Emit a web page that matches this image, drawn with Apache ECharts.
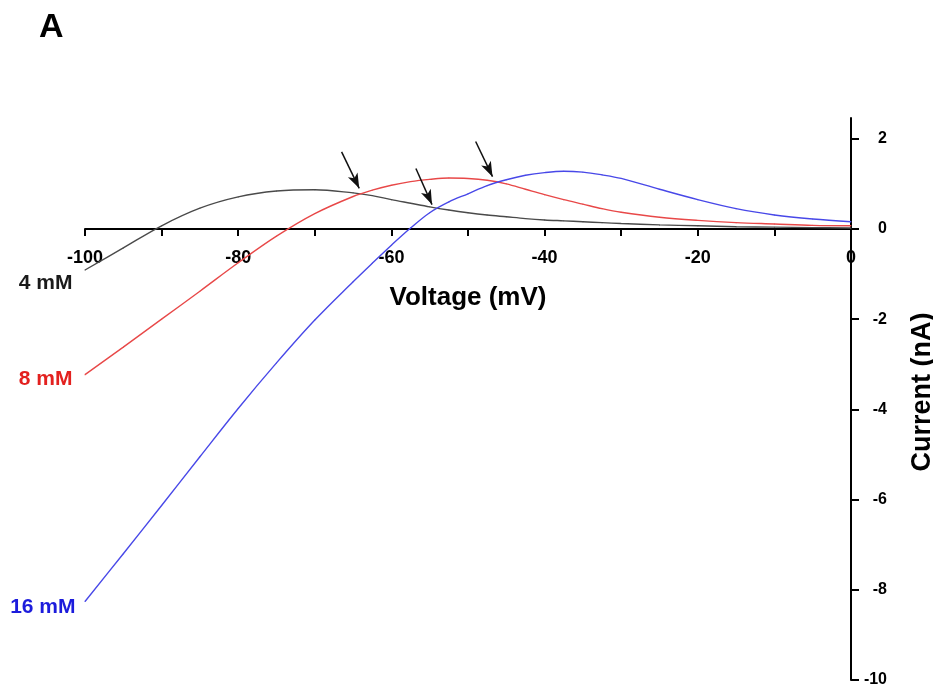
<!DOCTYPE html>
<html>
<head>
<meta charset="utf-8">
<script src="https://cdn.jsdelivr.net/npm/echarts@6/dist/echarts.min.js"></script>
<style>
  html, body { margin: 0; padding: 0; background: #fff; }
  #chart { width: 933px; height: 685px; }
</style>
</head>
<body>
<div id="chart"></div>
<script>
// Voltage (mV) sample points
const voltage = [-100, -95, -90, -85, -80, -75, -70, -65, -62.5, -60, -57.5, -55, -52.5, -50, -47.5, -45, -42.5, -40, -37.5, -35, -32.5, -30, -25, -20, -15, -10, -5, 0];
// Current (nA) for each concentration
const current4mM  = [-0.91, -0.42, 0.07, 0.46, 0.71, 0.84, 0.87, 0.80, 0.74, 0.65, 0.57, 0.49, 0.42, 0.36, 0.31, 0.27, 0.23, 0.20, 0.18, 0.16, 0.14, 0.12, 0.09, 0.07, 0.05, 0.04, 0.03, 0.02];
const current8mM  = [-3.23, -2.62, -2.00, -1.38, -0.75, -0.16, 0.34, 0.72, 0.86, 0.97, 1.05, 1.10, 1.13, 1.12, 1.08, 1.00, 0.88, 0.76, 0.65, 0.55, 0.45, 0.37, 0.26, 0.19, 0.14, 0.11, 0.08, 0.07];
const current16mM = [-8.26, -7.20, -6.13, -5.05, -3.98, -2.97, -2.02, -1.17, -0.76, -0.36, 0.02, 0.36, 0.60, 0.78, 0.96, 1.09, 1.19, 1.25, 1.28, 1.26, 1.20, 1.12, 0.88, 0.65, 0.45, 0.31, 0.22, 0.16];
const seriesNames = ['4 mM', '8 mM', '16 mM'];
// Axis ticks and labels
const xTickValues = [-100, -90, -80, -70, -60, -50, -40, -30, -20, -10, 0];
const xLabelValues = [-100, -80, -60, -40, -20, 0];
const yTickValues = [-10, -8, -6, -4, -2, 0, 2];
const yMin = -10, yMax = 2.46, xMin = -100, xMax = 0;
// Arrows: [tailVoltage, tailCurrent, tipVoltage, tipCurrent]
const arrows = [
  [-66.5, 1.71, -64.2, 0.90],
  [-56.8, 1.34, -54.7, 0.54],
  [-49.0, 1.94, -46.8, 1.16]
];

const FONT = '"Liberation Sans", Arial, Helvetica, sans-serif';
const lineColors = ['#4a4a4a', '#e84848', '#4848e8'];
const labelColors = ['#1a1a1a', '#e3211f', '#1c1cdc'];
const labelOffsets = [[0, 13], [0, 5], [0, 6]];
const curves = [current4mM, current8mM, current16mM];

const GRID = { left: 85, right: 82, top: 118, bottom: 5 };
const chartH = 685;
const gridH = chartH - GRID.top - GRID.bottom;
// distance (px) from grid bottom up to the y = 0 line, derived from the y scale
const zeroLift = gridH * (0 - yMin) / (yMax - yMin);

function buildData(values, idx) {
  return voltage.map((v, i) => {
    if (i === 0) {
      return {
        value: [v, values[i]],
        label: {
          show: true,
          position: 'left',
          distance: idx === 2 ? 9 : 12,
          offset: labelOffsets[idx],
          formatter: seriesNames[idx],
          color: labelColors[idx],
          fontSize: 21,
          fontWeight: 'bold',
          fontFamily: FONT
        }
      };
    }
    return [v, values[i]];
  });
}

const series = curves.map((vals, idx) => ({
  type: 'line',
  name: seriesNames[idx],
  data: buildData(vals, idx),
  smooth: 0.35,
  showSymbol: true,
  showAllSymbol: true,
  symbol: 'circle',
  symbolSize: 1,
  clip: false,
  itemStyle: { color: lineColors[idx] },
  lineStyle: { color: lineColors[idx], width: 1.4 },
  emphasis: { disabled: true },
  silent: true,
  z: 3
}));

series[0].markLine = {
  silent: true,
  symbol: ['none', 'arrow'],
  symbolSize: [8, 15],
  label: { show: false },
  lineStyle: { color: '#111', width: 1.5, type: 'solid' },
  emphasis: { disabled: true },
  data: arrows.map(a => [{ coord: [a[0], a[1]] }, { coord: [a[2], a[3]] }])
};

const option = {
  animation: false,
  backgroundColor: '#ffffff',
  title: {
    text: 'A',
    left: 34,
    top: 6,
    textStyle: { fontSize: 34, fontWeight: 'bold', color: '#000', fontFamily: FONT }
  },
  grid: { left: GRID.left, right: GRID.right, top: GRID.top, bottom: GRID.bottom, containLabel: false, outerBoundsMode: 'none' },
  xAxis: {
    type: 'value',
    min: xMin,
    max: xMax,
    interval: 10,
    position: 'bottom',
    offset: -zeroLift,
    name: 'Voltage (mV)',
    nameLocation: 'middle',
    nameGap: 56,
    nameTextStyle: { fontSize: 26, fontWeight: 'bold', color: '#000', fontFamily: FONT },
    axisLine: { onZero: false, lineStyle: { color: '#000', width: 2 } },
    axisTick: { show: true, inside: false, length: 7, customValues: xTickValues, lineStyle: { color: '#000', width: 2 } },
    axisLabel: { customValues: xLabelValues, margin: 20, fontSize: 18, fontWeight: 'bold', color: '#000', fontFamily: FONT },
    splitLine: { show: false }
  },
  yAxis: {
    type: 'value',
    position: 'right',
    min: yMin,
    max: yMax,
    name: 'Current (nA)',
    nameLocation: 'middle',
    nameGap: 58,
    nameTextStyle: { fontSize: 27, fontWeight: 'bold', color: '#000', fontFamily: FONT, padding: [0, 0, 0, 14] },
    axisLine: { onZero: false, lineStyle: { color: '#000', width: 2 } },
    axisTick: { show: true, inside: false, length: 8, customValues: yTickValues, lineStyle: { color: '#000', width: 2 } },
    axisLabel: { customValues: yTickValues, margin: 36, align: 'right', fontSize: 16, fontWeight: 'bold', color: '#000', fontFamily: FONT },
    splitLine: { show: false }
  },
  series: series
};

const chart = echarts.init(document.getElementById('chart'), null, { renderer: 'canvas' });
chart.setOption(option);
</script>
</body>
</html>
